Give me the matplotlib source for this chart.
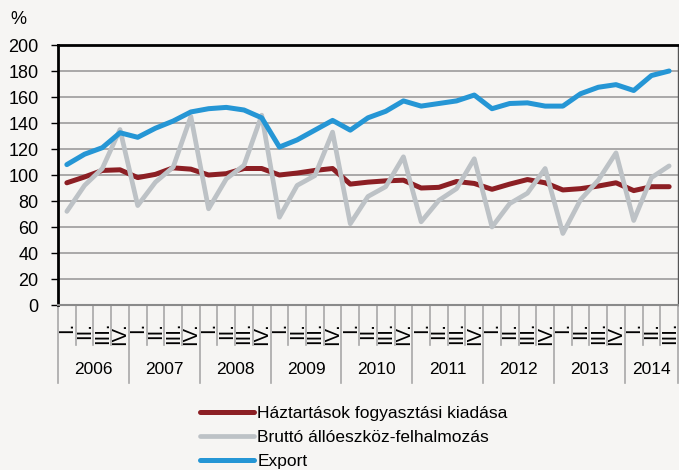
import matplotlib
matplotlib.use('Agg')
import matplotlib.pyplot as plt

# Data: quarterly volume indices, 2006 Q1 - 2014 Q3
years = ['2006', '2007', '2008', '2009', '2010', '2011', '2012', '2013', '2014']
quarters = ['I.', 'II.', 'III.', 'IV.']
n_last_year = 3

haztartas = [94, 98.5, 103.5, 104, 98, 100.5, 105.5, 104.5, 100, 101, 105, 105,
             100, 101.5, 103.5, 105, 93, 94.5, 95.5, 96, 90, 90.5, 95, 93.5,
             89, 93, 96.5, 94, 88.5, 89.5, 91.5, 94, 88, 91, 91]
brutto = [72, 92, 105, 135, 76.5, 94.5, 106, 145, 74, 97, 107.5, 146,
          67.5, 92, 99.5, 133, 62.5, 83.5, 91, 114, 64, 80.5, 89.5, 112.5,
          60, 78, 86, 105, 55, 81, 96, 117, 65, 98, 107]
export = [108, 116, 121, 132.5, 129, 136, 141.5, 148.5, 151, 152, 150, 144,
          121.5, 127, 134.5, 142, 134.5, 144, 149, 157, 153, 155, 157, 161.5,
          151, 155, 155.5, 153, 153, 162.5, 167.5, 169.5, 165, 176.5, 180]

labels = ['Háztartások fogyasztási kiadása', 'Bruttó állóeszköz-felhalmozás', 'Export']
colors = ['#8c1f24', '#bdc2c6', '#2596d5']

bg = '#f6f5f3'
plt.rcParams['font.family'] = ['Liberation Sans', 'DejaVu Sans']

fig = plt.figure(figsize=(6.79, 4.70), dpi=100, facecolor=bg)
ax = fig.add_axes([58 / 679, 1 - 305 / 470, 620 / 679, 260 / 470])
ax.set_facecolor(bg)

x = list(range(len(export)))
for series, c, lab, lw in zip([haztartas, brutto, export], colors, labels, [3.6, 3.4, 3.6]):
    ax.plot(x, series, color=c, lw=lw, label=lab, solid_capstyle='round', zorder=3)

ax.set_xlim(-0.5, len(x) - 0.5)
ax.set_ylim(0, 200)
ax.set_yticks(range(0, 201, 20))
ax.tick_params(axis='y', labelsize=13, length=5, width=1, color='black', pad=9)
ax.yaxis.grid(True, color='#a3a3a3', lw=1.3)
ax.set_axisbelow(True)
ax.set_xticks([])

ax.spines['left'].set_linewidth(2)
ax.spines['left'].set_color('black')
ax.spines['top'].set_linewidth(2)
ax.spines['top'].set_color('black')
ax.spines['right'].set_linewidth(1)
ax.spines['right'].set_color('#555555')
ax.spines['bottom'].set_linewidth(1.5)
ax.spines['bottom'].set_color('#8a8a8a')

fig.text(10 / 679, 1 - 20 / 470, '%', fontsize=13, va='center', ha='left')

# category axis: rotated quarter labels, separators, year labels
trans = ax.get_xaxis_transform()
px = 1 / 260
for i in range(len(x)):
    ax.text(i, -17 * px, quarters[i % 4], rotation=90, ha='center', va='top',
            fontsize=14.5, transform=trans, family=['Liberation Sans Narrow', 'Liberation Sans'])
for k in range(len(x) + 1):
    edge = k - 0.5
    depth = 78 if (k % 4 == 0 or k == len(x)) else 40
    ax.plot([edge, edge], [0, -depth * px], transform=trans, color='#a8a8a8',
            lw=1.2, clip_on=False)
for j, yr in enumerate(years):
    n = 4 if j < len(years) - 1 else n_last_year
    mid = j * 4 + (n - 1) / 2
    ax.text(mid, -65 * px, yr, ha='center', va='center', fontsize=12.5, transform=trans)

leg = fig.legend(loc='upper left', bbox_to_anchor=(200 / 679, 1 - 406 / 470),
                 frameon=False, fontsize=12.5, handlelength=3.1, handletextpad=0.2,
                 labelspacing=0.5, borderpad=0, borderaxespad=0)

fig.savefig('out.png', dpi=100, facecolor=bg)
